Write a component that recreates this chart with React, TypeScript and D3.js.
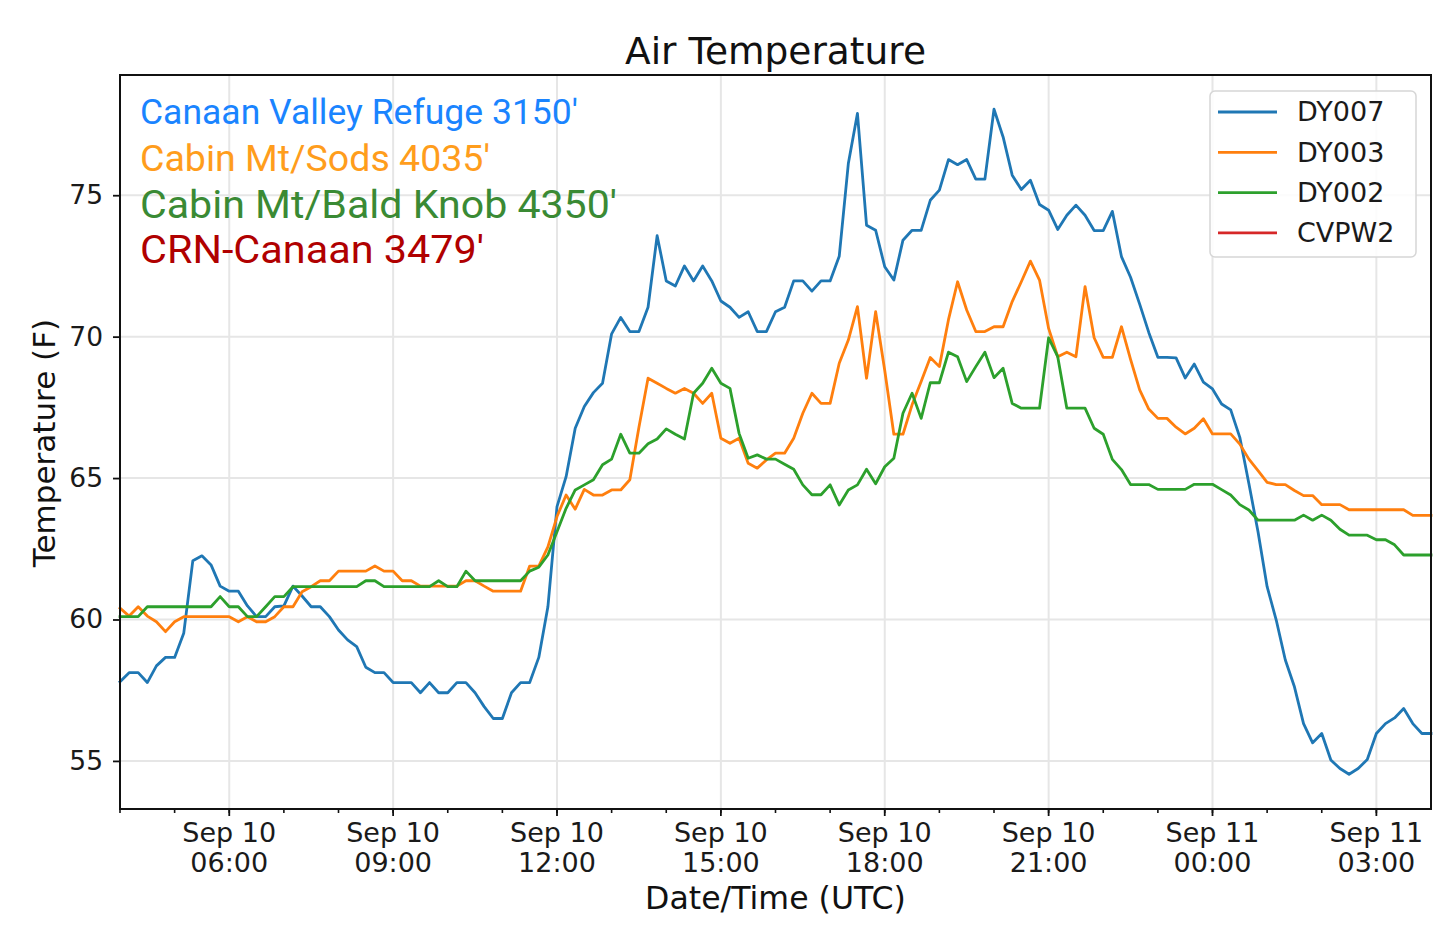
import { useEffect, useRef } from 'react';
import * as d3 from 'd3';

// 10-minute observations, Sep 10 04:00 UTC -> Sep 11 04:00 UTC
const START = new Date(Date.UTC(2019, 8, 10, 4, 0));
const STEP_MINUTES = 10;

const DY007 = [
  57.80, 58.12, 58.12, 57.77, 58.36, 58.66, 58.66, 59.51, 62.08, 62.25,
  61.93, 61.18, 61.00, 61.00, 60.48, 60.10, 60.10, 60.45, 60.48, 61.18,
  60.83, 60.45, 60.45, 60.10, 59.63, 59.28, 59.04, 58.31, 58.12, 58.12,
  57.77, 57.77, 57.77, 57.41, 57.77, 57.41, 57.41, 57.77, 57.77, 57.41,
  56.92, 56.50, 56.50, 57.41, 57.77, 57.77, 58.66, 60.45, 63.99, 65.05,
  66.76, 67.53, 68.02, 68.35, 70.10, 70.68, 70.18, 70.18, 71.04, 73.57,
  71.97, 71.79, 72.50, 71.97, 72.50, 71.97, 71.26, 71.04, 70.68, 70.88,
  70.18, 70.18, 70.88, 71.04, 71.97, 71.97, 71.61, 71.97, 71.97, 72.84,
  76.12, 77.89, 73.94, 73.76, 72.47, 72.00, 73.41, 73.76, 73.76, 74.82,
  75.18, 76.26, 76.08, 76.26, 75.57, 75.57, 78.04, 77.06, 75.71, 75.20,
  75.53, 74.67, 74.47, 73.79, 74.29, 74.65, 74.29, 73.75, 73.75, 74.43,
  72.83, 72.10, 71.15, 70.15, 69.27, 69.27, 69.25, 68.54, 69.03, 68.39,
  68.15, 67.62, 67.41, 66.44, 64.80, 63.10, 61.16, 59.98, 58.57, 57.62,
  56.32, 55.64, 55.97, 55.03, 54.73, 54.53, 54.73, 55.05, 55.97, 56.32,
  56.52, 56.85, 56.32, 55.97, 55.97,
];

const DY003 = [
  60.40, 60.12, 60.45, 60.12, 59.92, 59.57, 59.92, 60.10, 60.10, 60.10,
  60.10, 60.10, 60.10, 59.92, 60.10, 59.92, 59.92, 60.10, 60.45, 60.45,
  60.98, 61.16, 61.37, 61.37, 61.71, 61.71, 61.71, 61.71, 61.89, 61.71,
  61.71, 61.37, 61.37, 61.18, 61.18, 61.18, 61.18, 61.18, 61.37, 61.37,
  61.18, 61.00, 61.00, 61.00, 61.00, 61.89, 61.89, 62.57, 63.64, 64.40,
  63.90, 64.60, 64.40, 64.40, 64.58, 64.58, 64.94, 66.80, 68.53, 68.35,
  68.17, 68.00, 68.17, 68.00, 67.64, 68.00, 66.41, 66.23, 66.41, 65.52,
  65.35, 65.64, 65.88, 65.88, 66.41, 67.29, 68.00, 67.64, 67.64, 69.06,
  69.88, 71.06, 68.53, 70.88, 68.80, 66.55, 66.55, 67.59, 68.41, 69.26,
  68.94, 70.60, 71.94, 70.94, 70.18, 70.18, 70.35, 70.35, 71.24, 71.94,
  72.67, 72.00, 70.29, 69.29, 69.45, 69.29, 71.77, 69.96, 69.27, 69.27,
  70.35, 69.20, 68.12, 67.44, 67.11, 67.11, 66.80, 66.56, 66.76, 67.10,
  66.56, 66.56, 66.56, 66.20, 65.67, 65.26, 64.85, 64.77, 64.77, 64.56,
  64.38, 64.38, 64.06, 64.06, 64.06, 63.88, 63.88, 63.88, 63.88, 63.88,
  63.88, 63.88, 63.68, 63.68, 63.68,
];

const DY002 = [
  60.10, 60.10, 60.10, 60.45, 60.45, 60.45, 60.45, 60.45, 60.45, 60.45,
  60.45, 60.81, 60.45, 60.45, 60.10, 60.10, 60.45, 60.81, 60.81, 61.16,
  61.16, 61.16, 61.16, 61.16, 61.16, 61.16, 61.16, 61.37, 61.37, 61.16,
  61.16, 61.16, 61.16, 61.16, 61.16, 61.37, 61.16, 61.16, 61.71, 61.37,
  61.37, 61.37, 61.37, 61.37, 61.37, 61.71, 61.85, 62.28, 63.10, 63.93,
  64.58, 64.76, 64.94, 65.47, 65.67, 66.55, 65.88, 65.88, 66.21, 66.38,
  66.74, 66.55, 66.38, 68.00, 68.35, 68.88, 68.35, 68.17, 66.58, 65.70,
  65.82, 65.67, 65.67, 65.49, 65.31, 64.76, 64.41, 64.41, 64.76, 64.05,
  64.58, 64.76, 65.31, 64.80, 65.40, 65.70, 67.29, 68.00, 67.11, 68.37,
  68.37, 69.45, 69.29, 68.41, 68.94, 69.45, 68.55, 68.88, 67.64, 67.47,
  67.47, 67.47, 69.96, 69.29, 67.47, 67.47, 67.47, 66.76, 66.55, 65.66,
  65.30, 64.77, 64.77, 64.77, 64.60, 64.60, 64.60, 64.60, 64.78, 64.78,
  64.78, 64.59, 64.40, 64.06, 63.87, 63.51, 63.51, 63.51, 63.51, 63.51,
  63.69, 63.51, 63.69, 63.51, 63.19, 62.98, 62.98, 62.98, 62.82, 62.82,
  62.64, 62.28, 62.28, 62.28, 62.28,
];

// CVPW2 had no data in this window (legend entry only)
const CVPW2: number[] = [];

const SERIES_NAMES = ['DY007', 'DY003', 'DY002', 'CVPW2'];
const SERIES_COLORS = ['#1f77b4', '#ff7f0e', '#2ca02c', '#d62728'];

const SITE_LABELS = [
  "Canaan Valley Refuge 3150'",
  "Cabin Mt/Sods 4035'",
  "Cabin Mt/Bald Knob 4350'",
  "CRN-Canaan 3479'",
];
const SITE_COLORS = ['#1a84ff', '#ff9d1c', '#3a8a34', '#b00000'];
const SITE_SIZES = [35.5, 36, 39, 39];
const SITE_WIDTHS = [438, 350, 477, 344];

const Y_TICKS = [55, 60, 65, 70, 75];
const Y_DOMAIN = [53.3, 79.25];

const DEJAVU = '"DejaVu Sans", sans-serif';

export default function App() {
  const svgRef = useRef<SVGSVGElement>(null);

  useEffect(() => {
    if (!svgRef.current) return;
    const svg = d3.select(svgRef.current);
    svg.selectAll('*').remove();

    const W = 1439;
    const H = 933;
    const margin = { top: 75, right: 8, bottom: 124, left: 120 };
    const width = W - margin.left - margin.right;
    const height = H - margin.top - margin.bottom;

    const times = DY007.map((_, i) => d3.utcMinute.offset(START, i * STEP_MINUTES));
    const end = d3.utcHour.offset(START, 24);

    const x = d3.scaleUtc().domain([START, end]).range([0, width]);
    const y = d3.scaleLinear().domain(Y_DOMAIN).range([height, 0]);

    const g = svg.append('g').attr('transform', `translate(${margin.left},${margin.top})`);

    const majorTicks = d3.utcHour.every(3)!.range(d3.utcHour.offset(START, 2), end);
    const minorTicks = d3.utcHour.every(1)!.range(START, end);

    // grid
    g.append('g')
      .selectAll('line')
      .data(majorTicks)
      .join('line')
      .attr('x1', d => x(d))
      .attr('x2', d => x(d))
      .attr('y1', 0)
      .attr('y2', height)
      .attr('stroke', '#e6e6e6')
      .attr('stroke-width', 2);

    g.append('g')
      .selectAll('line')
      .data(Y_TICKS)
      .join('line')
      .attr('x1', 0)
      .attr('x2', width)
      .attr('y1', d => y(d))
      .attr('y2', d => y(d))
      .attr('stroke', '#e6e6e6')
      .attr('stroke-width', 2);

    // series lines
    const series = [DY007, DY003, DY002, CVPW2];
    const line = d3.line<number>()
      .x((_, i) => x(times[i]))
      .y(d => y(d));

    series.forEach((values, k) => {
      if (!values.length) return;
      g.append('path')
        .datum(values)
        .attr('fill', 'none')
        .attr('stroke', SERIES_COLORS[k])
        .attr('stroke-width', 2.8)
        .attr('stroke-linejoin', 'round')
        .attr('stroke-linecap', 'square')
        .attr('d', line);
    });

    // frame
    g.append('rect')
      .attr('width', width)
      .attr('height', height)
      .attr('fill', 'none')
      .attr('stroke', '#111')
      .attr('stroke-width', 2);

    // x ticks
    g.append('g')
      .selectAll('line')
      .data(minorTicks)
      .join('line')
      .attr('x1', d => x(d))
      .attr('x2', d => x(d))
      .attr('y1', height)
      .attr('y2', height + 4)
      .attr('stroke', '#111')
      .attr('stroke-width', 1.6);

    g.append('g')
      .selectAll('line')
      .data(majorTicks)
      .join('line')
      .attr('x1', d => x(d))
      .attr('x2', d => x(d))
      .attr('y1', height)
      .attr('y2', height + 7)
      .attr('stroke', '#111')
      .attr('stroke-width', 1.8);

    const fmtDay = d3.utcFormat('%b %d');
    const fmtTime = d3.utcFormat('%H:%M');
    const xLabels = g.append('g')
      .selectAll('text')
      .data(majorTicks)
      .join('text')
      .attr('text-anchor', 'middle')
      .attr('font-family', DEJAVU)
      .attr('font-size', 27)
      .attr('fill', '#1a1a1a');
    xLabels.append('tspan')
      .attr('x', d => x(d))
      .attr('y', height + 33)
      .text(d => fmtDay(d));
    xLabels.append('tspan')
      .attr('x', d => x(d))
      .attr('y', height + 63)
      .text(d => fmtTime(d));

    // y ticks
    const yAxis = g.append('g')
      .call(d3.axisLeft(y).tickValues(Y_TICKS).tickSize(7).tickPadding(10));
    yAxis.select('.domain').remove();
    yAxis.selectAll('line').attr('stroke', '#111').attr('stroke-width', 1.8);
    yAxis.selectAll('text')
      .attr('font-family', DEJAVU)
      .attr('font-size', 26.5)
      .attr('fill', '#1a1a1a');

    // axis titles
    svg.append('text')
      .attr('x', margin.left + width / 2)
      .attr('y', 909)
      .attr('text-anchor', 'middle')
      .attr('font-family', DEJAVU)
      .attr('font-size', 31.6)
      .attr('fill', '#111')
      .text('Date/Time (UTC)');

    svg.append('text')
      .attr('transform', `translate(55,443) rotate(-90)`)
      .attr('text-anchor', 'middle')
      .attr('font-family', DEJAVU)
      .attr('font-size', 31)
      .attr('fill', '#111')
      .text('Temperature (F)');

    svg.append('text')
      .attr('x', margin.left + width / 2)
      .attr('y', 64)
      .attr('text-anchor', 'middle')
      .attr('font-family', DEJAVU)
      .attr('font-size', 37.5)
      .attr('fill', '#111')
      .text('Air Temperature');

    // site annotations
    const siteBaselines = [124, 171, 218, 263];
    svg.append('g')
      .selectAll('text')
      .data(SITE_LABELS)
      .join('text')
      .attr('x', 140)
      .attr('y', (_, i) => siteBaselines[i])
      .attr('font-family', 'Roboto, sans-serif')
      .attr('font-size', (_, i) => SITE_SIZES[i])
      .attr('textLength', (_, i) => SITE_WIDTHS[i])
      .attr('lengthAdjust', 'spacingAndGlyphs')
      .attr('fill', (_, i) => SITE_COLORS[i])
      .text(d => d);

    // legend
    const legend = svg.append('g').attr('transform', 'translate(1210,91)');
    legend.append('rect')
      .attr('width', 206)
      .attr('height', 166)
      .attr('rx', 5)
      .attr('fill', 'rgba(255,255,255,0.85)')
      .attr('stroke', '#d6d6d6')
      .attr('stroke-width', 1.5);

    const rows = legend.selectAll('g.row')
      .data(SERIES_NAMES)
      .join('g')
      .attr('class', 'row')
      .attr('transform', (_, i) => `translate(0,${21 + i * 40.3})`);
    rows.append('line')
      .attr('x1', 8)
      .attr('x2', 67)
      .attr('stroke', (_, i) => SERIES_COLORS[i])
      .attr('stroke-width', 2.8);
    rows.append('text')
      .attr('x', 87)
      .attr('dy', '0.35em')
      .attr('font-family', DEJAVU)
      .attr('font-size', 27)
      .attr('fill', '#1a1a1a')
      .text(d => d);
  }, []);

  return (
    <svg
      ref={svgRef}
      width={1439}
      height={933}
      style={{ position: 'absolute', left: 0, top: 0, display: 'block', background: '#fff' }}
    />
  );
}
